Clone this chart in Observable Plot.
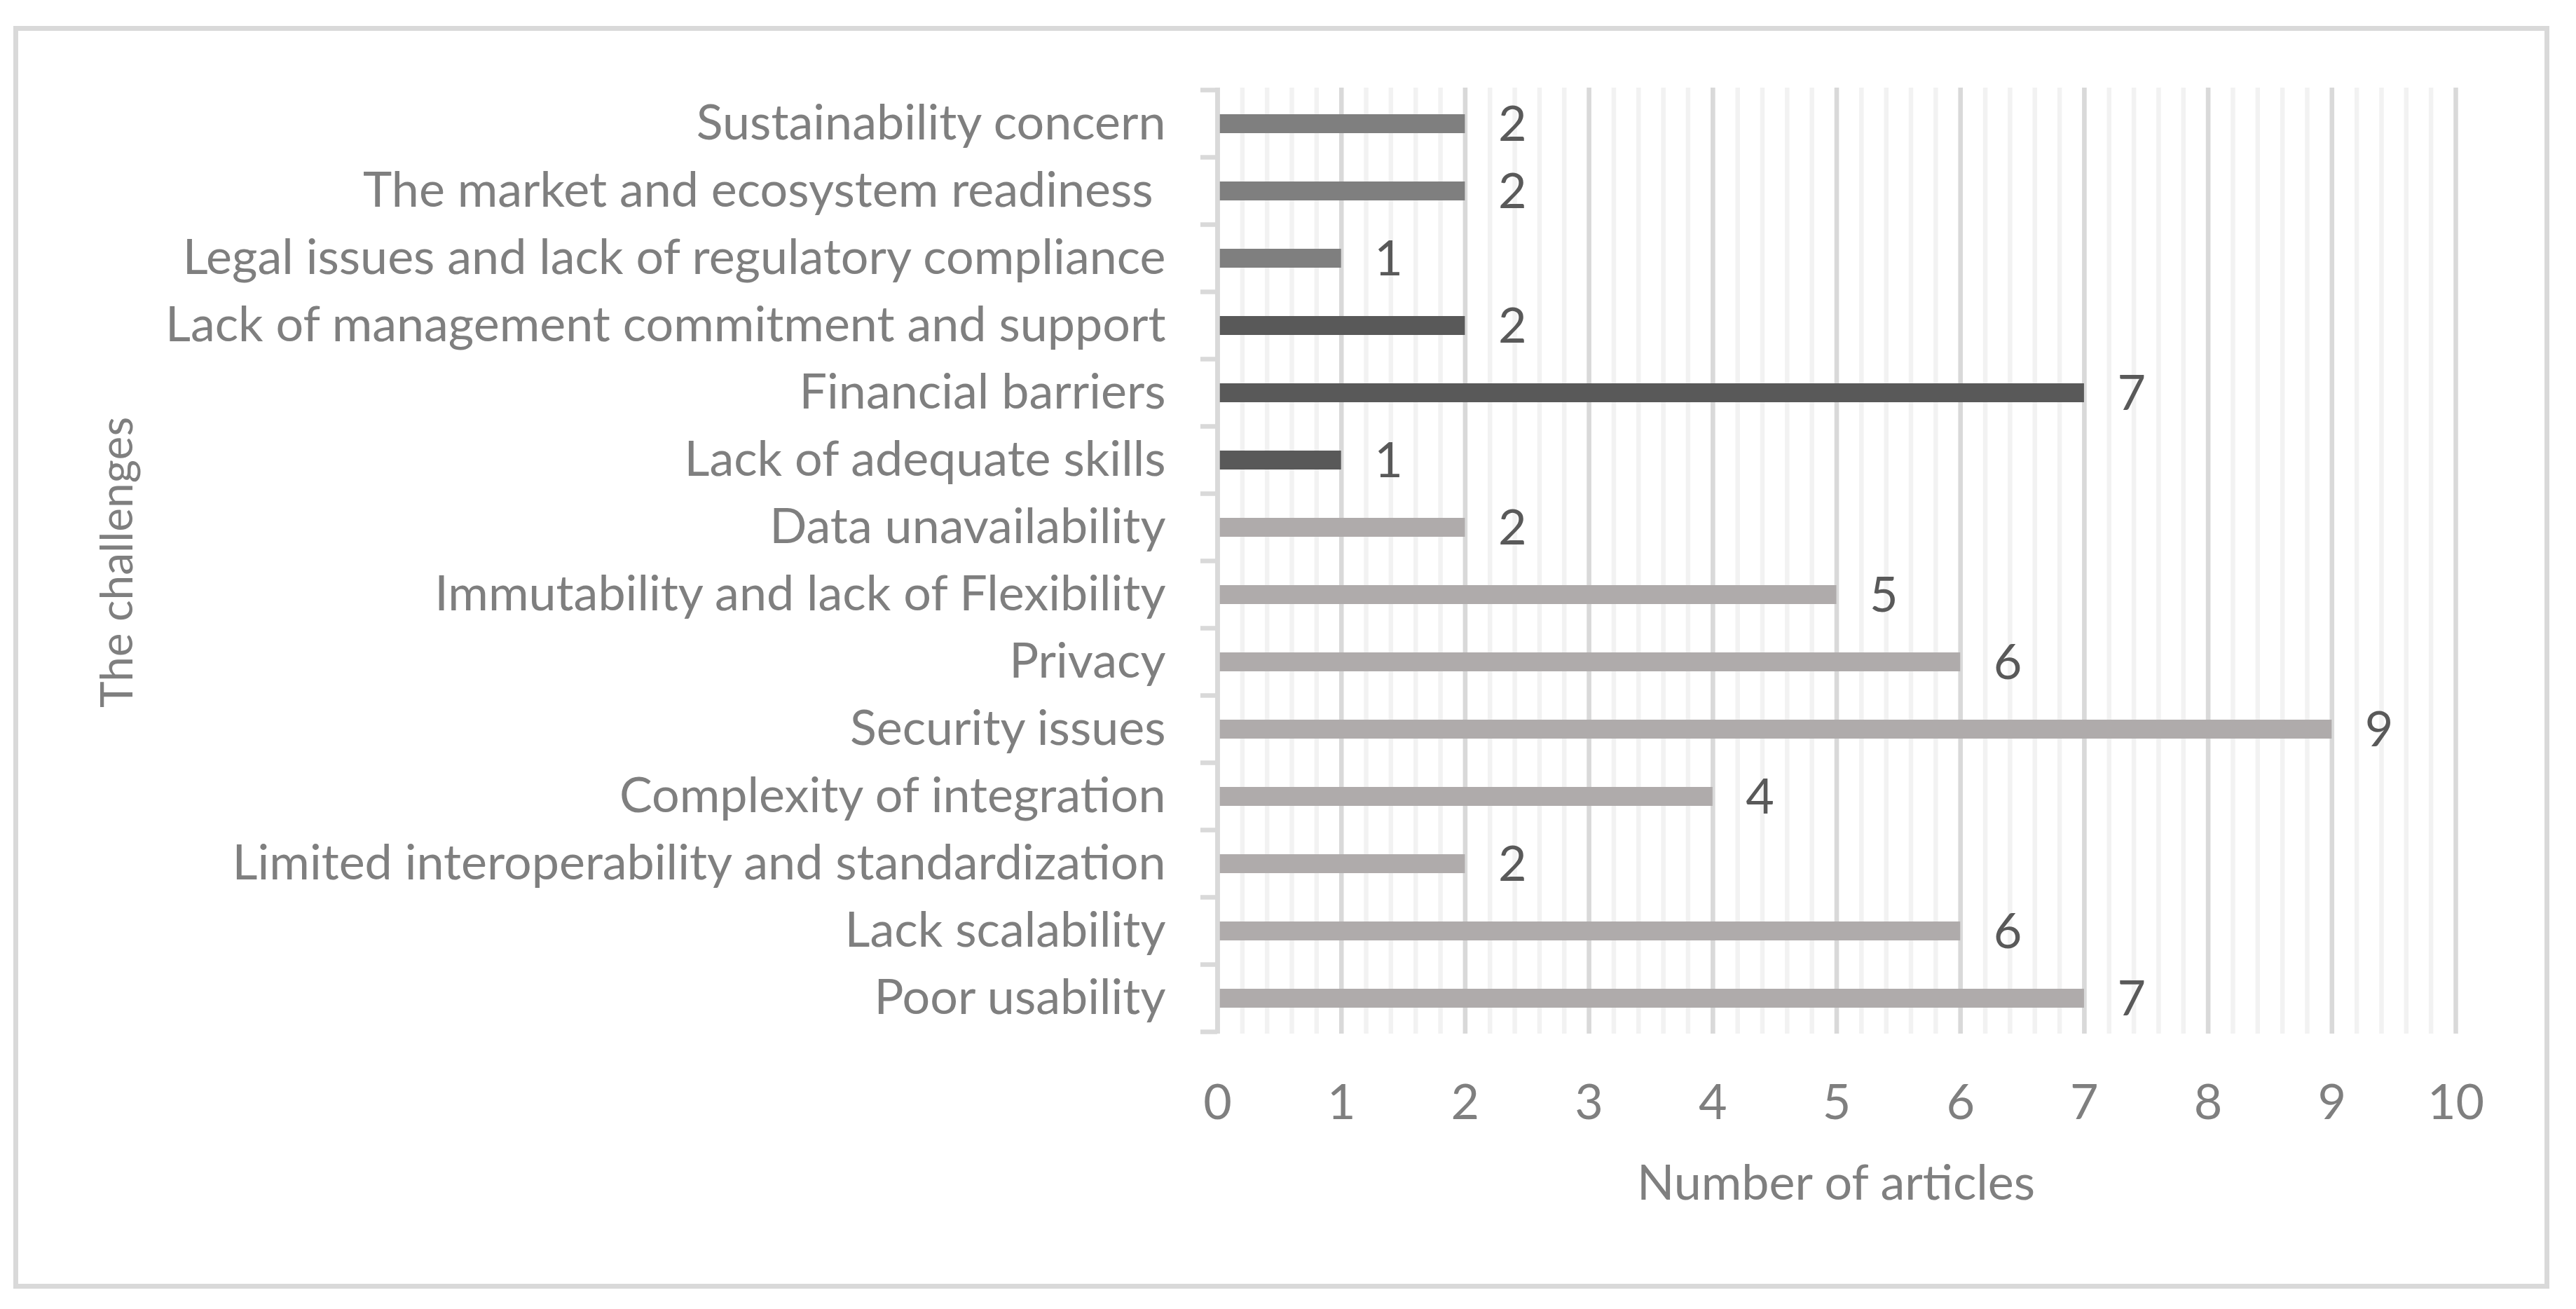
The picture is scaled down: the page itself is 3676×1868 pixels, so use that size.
<!DOCTYPE html>
<html>
<head>
<meta charset="utf-8">
<script src="https://cdn.jsdelivr.net/npm/d3@7"></script>
<script src="https://cdn.jsdelivr.net/npm/@observablehq/plot@0.6"></script>
<style>
  html, body { margin: 0; padding: 0; background: #ffffff; overflow: hidden; }
  #wrap { position: relative; width: 3676px; height: 1868px; }
  #frame { position: absolute; left: 19px; top: 37px; width: 3619px; height: 1802px;
           box-sizing: border-box; border: 7px solid #d9d9d9; pointer-events: none; }
  #chart { position: absolute; left: 0; top: 0; }
</style>
</head>
<body>
<div id="wrap"><div id="chart"></div><div id="frame"></div></div>
<script>
// ---- data (top to bottom as in the chart) ----
const categories = [
  "Sustainability concern",
  "The market and ecosystem readiness ",
  "Legal issues and lack of regulatory compliance",
  "Lack of management commitment and support",
  "Financial barriers",
  "Lack of adequate skills",
  "Data unavailability",
  "Immutability and lack of Flexibility",
  "Privacy",
  "Security issues",
  "Complexity of integration",
  "Limited interoperability and standardization",
  "Lack scalability",
  "Poor usability"
];
const values = [2, 2, 1, 2, 7, 1, 2, 5, 6, 9, 4, 2, 6, 7];
const groups = [
  "Environmental", "Environmental", "Environmental",
  "Organizational", "Organizational", "Organizational",
  "Technological", "Technological", "Technological", "Technological",
  "Technological", "Technological", "Technological", "Technological"
];
const groupNames = ["Environmental", "Organizational", "Technological"];
const xTicks = [0, 1, 2, 3, 4, 5, 6, 7, 8, 9, 10];
const xTitle = "Number of articles";
const yTitle = "The challenges";

const data = categories.map((c, i) => ({category: c, value: values[i], group: groups[i]}));
const minorTicks = d3.range(0, 50).map(i => i / 5);

// tick marks at category band boundaries, left of the vertical axis
function bandTicks(index, scales, values, dimensions) {
  const {marginTop, marginBottom, height} = dimensions;
  const n = categories.length;
  const hasStep = typeof scales.y?.step === "function";
  const step = hasStep ? scales.y.step() : (height - marginTop - marginBottom) / n;
  const y0 = hasStep ? scales.y(categories[0]) + scales.y.bandwidth() / 2 - step / 2 : marginTop;
  const x0 = scales.x(0);
  const g = d3.create("svg:g");
  g.selectAll("line").data(d3.range(n + 1)).join("line")
    .attr("x1", x0 - 24).attr("x2", x0)
    .attr("y1", i => y0 + i * step).attr("y2", i => y0 + i * step)
    .attr("stroke", "#d9d9d9").attr("stroke-width", 6.5);
  return g.node();
}

const FS = 70;
const chart = Plot.plot({
  width: 3676,
  height: 1868,
  marginLeft: 1737,
  marginRight: 172,
  marginTop: 125,
  marginBottom: 393,
  style: {fontFamily: "Lato, 'Open Sans', sans-serif", fontSize: FS + "px", color: "#7f7f7f", background: "transparent"},
  x: {domain: [0, 10], axis: null},
  y: {domain: categories, paddingInner: 0.72, paddingOuter: 0.36, axis: null},
  color: {domain: groupNames, range: ["#7f7f7f", "#595959", "#afabab"]},
  marks: [
    Plot.ruleX(minorTicks, {stroke: "#f2f2f2", strokeWidth: 6.5}),
    Plot.ruleX(xTicks, {stroke: "#d9d9d9", strokeWidth: 6.5}),
    Plot.barX(data, {x: "value", y: "category", fill: "group"}),
    Plot.ruleX([0], {stroke: "#d9d9d9", strokeWidth: 6.5}),
    bandTicks,
    Plot.axisY({tickSize: 0, tickPadding: 74, fontSize: FS, label: null,
                tickFormat: d => d.replace(/ $/, "\u00a0")}),
    Plot.axisX({ticks: xTicks, tickSize: 0, tickPadding: 72, fontSize: FS, label: null,
                tickFormat: d3.format("d")}),
    Plot.text(data, {x: "value", y: "category", text: d => String(d.value),
                     textAnchor: "start", dx: 47, dy: 2, fill: "#595959", fontSize: FS}),
    Plot.text([xTitle], {frameAnchor: "bottom", text: d => d, textAnchor: "middle", lineAnchor: "middle",
                         dx: -1, dy: 214, fontSize: FS}),
    Plot.text([yTitle], {frameAnchor: "left", text: d => d, rotate: -90, textAnchor: "middle", lineAnchor: "middle",
                         dx: -1569, dy: 2, fontSize: 64})
  ]
});
document.getElementById("chart").appendChild(chart);
</script>
</body>
</html>
